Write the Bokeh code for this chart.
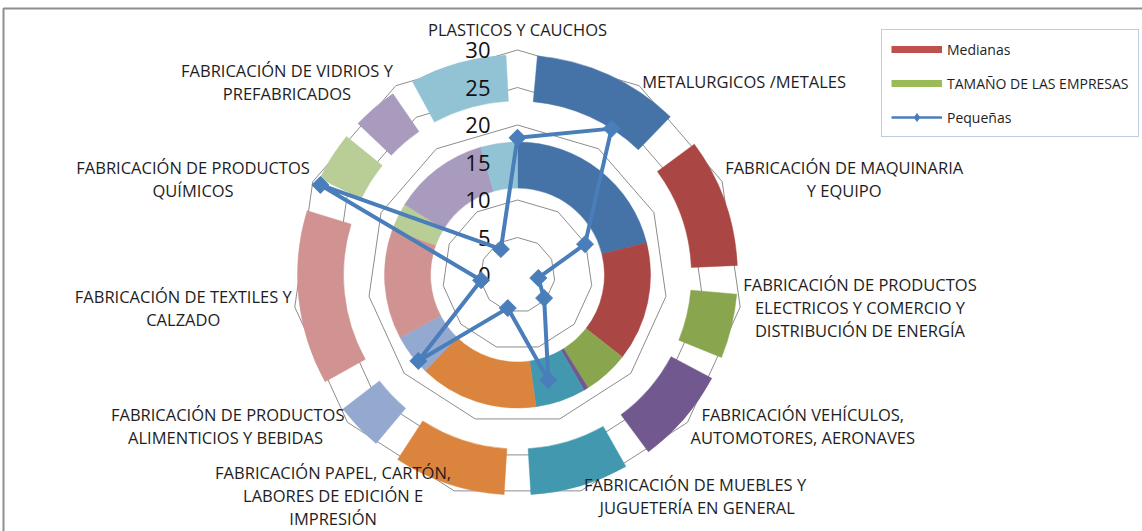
import numpy as np
from bokeh.plotting import figure
from bokeh.models import Range1d, ColumnDataSource, Legend, LegendItem
from bokeh.core.properties import value
from bokeh.embed import file_html
from bokeh.resources import INLINE

# ---------------- data ----------------
categories = [
    "PLASTICOS Y CAUCHOS",
    "METALURGICOS /METALES",
    "FABRICACIÓN DE MAQUINARIA\nY EQUIPO",
    "FABRICACIÓN DE PRODUCTOS\nELECTRICOS Y COMERCIO Y\nDISTRIBUCIÓN DE ENERGÍA",
    "FABRICACIÓN VEHÍCULOS,\nAUTOMOTORES, AERONAVES",
    "FABRICACIÓN DE MUEBLES  Y\nJUGUETERÍA EN GENERAL",
    "FABRICACIÓN PAPEL, CARTÓN,\nLABORES DE EDICIÓN E\nIMPRESIÓN",
    "FABRICACIÓN DE PRODUCTOS\nALIMENTICIOS  Y BEBIDAS",
    "FABRICACIÓN DE TEXTILES Y\nCALZADO",
    "FABRICACIÓN DE PRODUCTOS\nQUÍMICOS",
    "FABRICACIÓN DE VIDRIOS Y\nPREFABRICADOS",
]
pequenas = [18.3, 23.2, 9.9, 2.8, 4.7, 14.6, 4.6, 17.5, 4.9, 28.9, 4.1]
medianas = [8, 38, 26, 10, 1, 11, 26, 9, 24, 6, 21]
tamano = [25.5, 38.8, 34, 17, 25.5, 26, 29.5, 12.5, 46, 13, 12]
tamano_blank = [6, 8.2, 9.5, 7.5, 6, 7, 7, 7, 8.5, 9, 4.5]
radar_ticks = [0, 5, 10, 15, 20, 25, 30]
ring_order = [1, 2, 3, 4, 5, 6, 7, 8, 9, 10, 0]

# ---------------- style / layout ----------------
slice_colors = ["#92C3D4", "#4572A7", "#AA4643", "#89A54E", "#71588F", "#4198AF",
                "#DB843D", "#93A9CF", "#D19392", "#B9CD96", "#A99BBD"]
W, H = 1142, 531
CX, CY = 517, 274.5          # chart centre in page pixels
R_MAX = 225.0                # radius of value 30
inner_r = (87, 133)
outer_r = (174, 220)
outer_start_deg = -3.0
FONT_NAME = "Open Sans"
FONT = value(FONT_NAME)

p = figure(width=W, height=H, output_backend="svg", toolbar_location=None,
           x_range=Range1d(-CX, W - CX), y_range=Range1d(CY - H, CY),
           x_axis_location=None, y_axis_location=None, min_border=0,
           background_fill_color="white", border_fill_color="white")
p.outline_line_color = None
p.grid.visible = False

# chart-area border (top and left)
p.line([3 - CX, 3 - CX, W - CX], [CY - H, CY - 8, CY - 8], line_color="#8E8E8E", line_width=2)

n = len(categories)
theta = np.arange(n) * 2 * np.pi / n         # clockwise from north
scale = R_MAX / max(radar_ticks)

# grid polygons
gx, gy = [], []
for t in radar_ticks[1:]:
    r = t * scale
    xs = list(r * np.sin(theta))
    ys = list(r * np.cos(theta))
    gx.append(xs + xs[:1])
    gy.append(ys + ys[:1])
p.multi_line(gx, gy, line_color="#8C8C8C", line_width=1)


def wedges(vals, start_deg):
    vals = np.asarray(vals, dtype=float)
    tot = vals.sum()
    cum = np.concatenate([[0.0], np.cumsum(vals)])
    s = start_deg + cum[:-1] / tot * 360.0
    e = start_deg + cum[1:] / tot * 360.0
    return np.radians(90 - s), np.radians(90 - e)


# inner ring: Medianas
med_vals = [medianas[i] for i in ring_order]
s_in, e_in = wedges(med_vals, 0.0)
inner_src = ColumnDataSource(dict(s=s_in, e=e_in, c=[slice_colors[i] for i in ring_order]))
p.annular_wedge(x=0, y=0, inner_radius=inner_r[0], outer_radius=inner_r[1],
                start_angle="s", end_angle="e", direction="clock",
                fill_color="c", line_color="c", line_width=0.5, source=inner_src)

# outer ring: Tamaño (with blank spacer slices)
seq, kinds = [], []
for i in ring_order:
    seq.append(tamano_blank[i]); kinds.append(None)
    seq.append(tamano[i]); kinds.append(i)
s_out, e_out = wedges(seq, outer_start_deg)
keep = [k for k, kind in enumerate(kinds) if kind is not None]
outer_src = ColumnDataSource(dict(s=s_out[keep], e=e_out[keep],
                                  c=[slice_colors[kinds[k]] for k in keep]))
p.annular_wedge(x=0, y=0, inner_radius=outer_r[0], outer_radius=outer_r[1],
                start_angle="s", end_angle="e", direction="clock",
                fill_color="c", line_color="c", line_width=0.5, source=outer_src)

# radial tick labels
p.text(x=[-27] * len(radar_ticks), y=[t * scale for t in radar_ticks],
       text=[str(t) for t in radar_ticks], anchor="center_right", text_align="right",
       text_baseline="middle", text_font=FONT, text_font_size="22px", text_color="#111111")

# radar line: Pequeñas
rx = [v * scale * np.sin(a) for v, a in zip(pequenas, theta)]
ry = [v * scale * np.cos(a) for v, a in zip(pequenas, theta)]
line_r = p.line(rx + rx[:1], ry + ry[:1], line_color="#4A7EBB", line_width=4)
mark_r = p.scatter(rx, ry, marker="square", angle=np.pi / 4, size=12,
                   fill_color="#4A7EBB", line_color="#4A7EBB")

# category labels
lx, ly, anc = [], [], []
for a in theta:
    vx, vy = R_MAX * np.sin(a), R_MAX * np.cos(a)
    if abs(np.sin(a)) < 1e-6:
        lx.append(vx); ly.append(vy + 20.5); anc.append("center")
    elif np.sin(a) > 0:
        lx.append(vx + 3); ly.append(vy + 5 * np.cos(a)); anc.append("center_left")
    else:
        lx.append(vx - 3); ly.append(vy + 5 * np.cos(a)); anc.append("center_right")
lab_src = ColumnDataSource(dict(x=lx, y=ly, t=categories, a=anc))
p.text(x="x", y="y", text="t", anchor="a", source=lab_src, text_align="center",
       text_baseline="middle", text_font=FONT, text_font_size="16.5px",
       text_line_height=1.0, text_color="#1E1E1E")

# legend
med_dummy = p.line([np.nan, np.nan], [np.nan, np.nan], line_color="#C0504D", line_width=7)
tam_dummy = p.line([np.nan, np.nan], [np.nan, np.nan], line_color="#9BBB59", line_width=7)
peq_line_dummy = p.line([np.nan, np.nan], [np.nan, np.nan], line_color="#4A7EBB", line_width=2.5)
peq_mark_dummy = p.scatter([np.nan], [np.nan], marker="diamond", size=11,
                           fill_color="#4A7EBB", line_color="#4A7EBB")
legend = Legend(items=[LegendItem(label="Medianas", renderers=[med_dummy]),
                       LegendItem(label="TAMAÑO DE LAS EMPRESAS", renderers=[tam_dummy]),
                       LegendItem(label="Pequeñas", renderers=[peq_line_dummy, peq_mark_dummy])],
                location=(881, H - 137), margin=0, padding=9, spacing=14,
                glyph_width=51, glyph_height=20, label_height=20, label_standoff=5,
                label_text_font=FONT_NAME, label_text_font_size="14px", label_text_color="#1E1E1E",
                border_line_color="#7E9CC9", border_line_width=1,
                background_fill_color="white", background_fill_alpha=1)
p.add_layout(legend)

open("out.html", "w").write(file_html(p, INLINE))
